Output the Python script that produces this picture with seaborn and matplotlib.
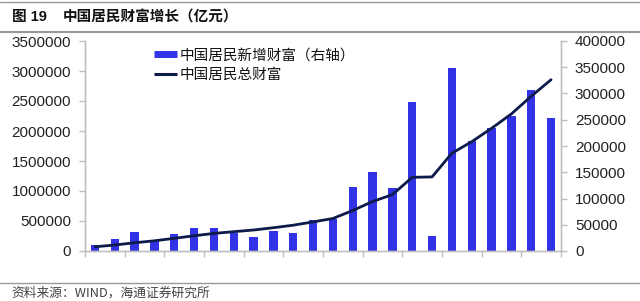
import matplotlib
matplotlib.use("Agg")
import matplotlib.pyplot as plt
from matplotlib.lines import Line2D
import seaborn as sns
import pandas as pd
import numpy as np

# ---- data ----
years = list(range(1991, 2015))
year_labels = [f"{y % 100:02d}" for y in years]
new_wealth = [11000, 22000, 36000, 20000, 32000, 44000, 44500, 35000, 26000, 38500,
              33500, 59000, 61000, 122500, 150000, 120000, 284500, 28600, 349000, 209000,
              234000, 258000, 307000, 254000]
total_wealth = [70000, 100000, 137000, 170000, 211000, 254000, 293000, 322000, 350000, 388000,
                430000, 485000, 542000, 675000, 825000, 940000, 1228000, 1235000, 1630000, 1822000,
                2045000, 2285000, 2580000, 2855000]
title_num = "图 19"
title_text = "中国居民财富增长（亿元）"
bar_label = "中国居民新增财富（右轴）"
line_label = "中国居民总财富"
source_text = "资料来源：WIND，海通证券研究所"

df = pd.DataFrame({"idx": np.arange(len(years)), "new": new_wealth, "total": total_wealth})

sns.set_theme(style="white")
plt.rcParams["font.family"] = ["Liberation Sans", "Noto Sans CJK SC", "DejaVu Sans"]

W, H = 640, 301
fig = plt.figure(figsize=(W / 100, H / 100), dpi=100)
L, R, T, B = 85, 561, 41, 251
ax = fig.add_axes([L / W, 1 - B / H, (R - L) / W, (B - T) / H])
ax2 = ax.twinx()

bar_color = "#3333E6"
line_color = "#0D1A4A"
axis_gray = "#BFBFBF"

sns.barplot(data=df, x="idx", y="new", ax=ax2, color=bar_color, width=0.42,
            saturation=1, edgecolor="none")
sns.lineplot(data=df, x="idx", y="total", ax=ax, color=line_color, linewidth=2.0)

ax.set_zorder(ax2.get_zorder() + 1)
ax.patch.set_visible(False)

for a in (ax, ax2):
    a.set_xlim(-0.5, len(years) - 0.5)
    a.set_xlabel("")
    a.set_ylabel("")
    for s in a.spines.values():
        s.set_color(axis_gray)
        s.set_linewidth(1.0)
    a.spines["top"].set_visible(False)

ax.set_ylim(0, 3500000)
ax.set_yticks(np.arange(0, 3500001, 500000))
ax.set_yticklabels([f"{int(v)}" for v in np.arange(0, 3500001, 500000)])
ax2.set_ylim(0, 400000)
ax2.set_yticks(np.arange(0, 400001, 50000))
ax2.set_yticklabels([f"{int(v)}" for v in np.arange(0, 400001, 50000)])

# x ticks: labels at odd years, tick marks at category boundaries
ax.set_xticks(np.arange(0, len(years), 2))
ax.set_xticklabels(year_labels[::2])
ax.set_xticks(np.arange(-0.5, len(years), 2), minor=True)
ax.tick_params(axis="x", which="major", length=0, pad=8, labelsize=11, colors="#222222")
ax.tick_params(axis="x", which="minor", length=4, width=1, color=axis_gray, direction="out", bottom=True)
ax2.set_xticks([])
ax.tick_params(axis="y", left=True, length=4, width=1, color=axis_gray, direction="out",
               labelsize=11, labelcolor="#222222", pad=6)
ax2.tick_params(axis="y", right=True, length=4, width=1, color=axis_gray, direction="out",
                labelsize=11, labelcolor="#222222", pad=6)
ax.grid(False)
ax2.grid(False)

# legend
handles = [Line2D([0], [0], color=bar_color, lw=5, solid_capstyle="butt"),
           Line2D([0], [0], color=line_color, lw=2.2, solid_capstyle="butt")]
leg = ax.legend(handles, [bar_label, line_label], loc="upper left",
                bbox_to_anchor=(141 / W, 1 - 35 / H), bbox_transform=fig.transFigure,
                frameon=False, handlelength=1.55, handletextpad=0.2, labelspacing=0.38,
                prop={"family": ["Noto Sans CJK SC"], "size": 10.5})
for t in leg.get_texts():
    t.set_color("#111111")

# title, rules, source
fig.add_artist(Line2D([0, 1], [1 - 1.5 / H, 1 - 1.5 / H], transform=fig.transFigure,
                      color="#999999", lw=1.0))
fig.add_artist(Line2D([0, 1], [1 - 32 / H, 1 - 32 / H], transform=fig.transFigure,
                      color="#999999", lw=1.5))
fig.add_artist(Line2D([0, 1], [1 - 283 / H, 1 - 283 / H], transform=fig.transFigure,
                      color="#999999", lw=1.0))
fig.text(12 / W, 1 - 17 / H, title_num, fontsize=10.5, fontweight="bold", va="center", ha="left",
         family=["Liberation Sans", "Noto Sans CJK SC"], color="#111111")
fig.text(63 / W, 1 - 17 / H, title_text, fontsize=10.5, fontweight="bold", va="center", ha="left",
         family=["Noto Sans CJK SC"], color="#111111")
fig.text(11 / W, 1 - 293 / H, source_text, fontsize=9.2, va="center", ha="left",
         family=["Noto Sans CJK SC", "Liberation Sans"], color="#444444")

fig.savefig("out.png", dpi=100)
